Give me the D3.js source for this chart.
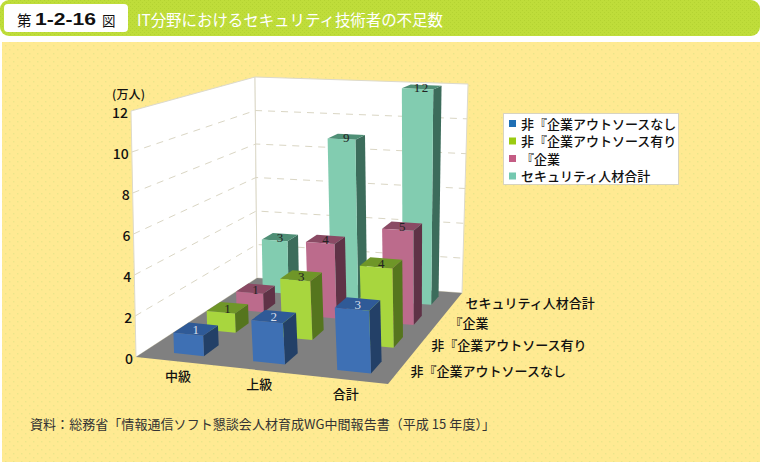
<!DOCTYPE html>
<html><head><meta charset="utf-8">
<style>html,body{margin:0;padding:0;background:#fff}svg{display:block}
text{font-family:"Noto Sans CJK JP","Noto Sans",sans-serif}</style>
<script src="https://cdn.jsdelivr.net/npm/d3@7"></script></head><body>
<svg id="c" width="760" height="462"></svg>
<script>
const categories=["中級","上級","合計"];
const seriesNames=["非『企業アウトソースなし","非『企業アウトソース有り","『企業","セキュリティ人材合計"];
const seriesA=[1,2,3];
const seriesB=[1,3,4];
const seriesC=[1,4,5];
const seriesD=[3,9,12];
const allSeries=[seriesA,seriesB,seriesC,seriesD];
const faceColors=["#3E70B4","#A8D63E","#BC6B8C","#82CCB0"];
const topColors=["#2F5A97","#6F9628","#8A4A64","#4F8F76"];
const sideColors=["#234067","#55751E","#5F3246","#3C6C5B"];
const labelColors=["#D8DEEA","#222","#222","#222"];
const legendColors=["#1F6FB5","#9BCB12","#C45C84","#74C8B0"];
const valueTicks=[0,2,4,6,8,10,12];

const svg=d3.select("#c");
const defs=svg.append("defs");
const pY=defs.append("pattern").attr("id","py").attr("width",8).attr("height",8).attr("patternUnits","userSpaceOnUse");
pY.append("rect").attr("width",8).attr("height",8).attr("fill","#FFEA92");
pY.append("rect").attr("x",1).attr("y",1).attr("width",1.4).attr("height",1.4).attr("fill","#EBE58A");
pY.append("rect").attr("x",5).attr("y",5).attr("width",1.4).attr("height",1.4).attr("fill","#EBE58A");
const pG=defs.append("pattern").attr("id","pg").attr("width",4).attr("height",4).attr("patternUnits","userSpaceOnUse");
pG.append("rect").attr("width",4).attr("height",4).attr("fill","#BFDD3A");
pG.append("rect").attr("x",0).attr("y",0).attr("width",1).attr("height",1).attr("fill","#B4D332");
pG.append("rect").attr("x",2).attr("y",2).attr("width",1).attr("height",1).attr("fill","#B4D332");

// frame
svg.append("rect").attr("x",0).attr("y",0).attr("width",760).attr("height",36).attr("rx",9).attr("fill","url(#pg)");
svg.append("rect").attr("x",4).attr("y",4).attr("width",124).attr("height",28).attr("rx",4).attr("fill","#fff");
svg.append("rect").attr("x",2).attr("y",42).attr("width",758).attr("height",420).attr("fill","url(#py)");
svg.append("text").attr("x",17).attr("y",26).attr("font-size",14.5).attr("fill","#111").text("第");
svg.append("text").attr("x",35).attr("y",25).attr("font-size",17).attr("font-weight",700).attr("fill","#111").style("font-family","Liberation Sans").attr("textLength",61).attr("lengthAdjust","spacingAndGlyphs").text("1-2-16");
svg.append("text").attr("x",102).attr("y",26).attr("font-size",13.5).attr("fill","#111").text("図");
svg.append("text").attr("x",137).attr("y",26).attr("font-size",15.5).attr("fill","#fff").attr("textLength",306).text("IT分野におけるセキュリティ技術者の不足数");
svg.append("text").attr("x",30).attr("y",429).attr("font-size",13).attr("fill","#333").attr("textLength",465).text("資料：総務省「情報通信ソフト懇談会人材育成WG中間報告書（平成 15 年度）」");

// projection: unit floor square + height
const corners={floor:[[136,357],[388,384],[462,293],[257,278]],top:[[131,111],[382,128],[468,84],[255,77]]};
function homography(q){
  const [[x0,y0],[x1,y1],[x2,y2],[x3,y3]]=q;
  const dx1=x1-x2,dx2=x3-x2,dy1=y1-y2,dy2=y3-y2,sx=x0-x1+x2-x3,sy=y0-y1+y2-y3;
  const det=dx1*dy2-dx2*dy1;
  const g=(sx*dy2-dx2*sy)/det,h=(dx1*sy-sx*dy1)/det;
  const a=x1-x0+g*x1,b=x3-x0+h*x3,d=y1-y0+g*y1,e=y3-y0+h*y3;
  return (u,v)=>{const w=g*u+h*v+1;return [(a*u+b*v+x0)/w,(d*u+e*v+y0)/w];};
}
const hF=homography(corners.floor),hT=homography(corners.top);
const xBand=d3.scaleBand().domain(d3.range(categories.length)).range([0,1]).paddingInner(0.615).paddingOuter(0.3125).align(0.58);
const yBand=d3.scaleBand().domain(d3.range(seriesNames.length)).range([0,1]).paddingInner(0.55).paddingOuter(0.28);
const zScale=d3.scaleLinear().domain([0,12]).range([0,1]);
function P(u,v,val){const f=hF(u,v),t=hT(u,v),z=zScale(val);return [f[0]+(t[0]-f[0])*z,f[1]+(t[1]-f[1])*z];}
const pathOf=pts=>"M"+pts.map(p=>p[0].toFixed(2)+","+p[1].toFixed(2)).join("L")+"Z";

const g=svg.append("g");
// walls
g.append("path").attr("d",pathOf([P(0,0,0),P(0,0,12),P(0,1,12),P(0,1,0)])).attr("fill","#fff").attr("stroke","#DDDACB");
g.append("path").attr("d",pathOf([P(0,1,0),P(0,1,12),P(1,1,12),P(1,1,0)])).attr("fill","#fff").attr("stroke","#DDDACB");
g.append("path").attr("d",pathOf([P(0,0,0),P(1,0,0),P(1,1,0),P(0,1,0)])).attr("fill","#808080");
// gridlines
valueTicks.filter(t=>t>0&&t<12).forEach(t=>{
  const l=d3.line();
  g.append("path").attr("d",l([P(0,0,t),P(0,1,t),P(1,1,t)])).attr("fill","none").attr("stroke","#DAD6C4").attr("stroke-width",1).attr("stroke-dasharray","7,6");
});
// value axis labels
valueTicks.forEach(t=>{
  const p=P(0,0,t);
  svg.append("text").attr("x",p[0]-3).attr("y",p[1]+6.5).attr("text-anchor","end").attr("font-size",14).attr("font-weight",500).attr("fill","#111").text(t);
});
svg.append("text").attr("x",112).attr("y",99).attr("font-size",12).attr("font-weight",500).attr("fill","#111").attr("textLength",33).text("(万人)");
// category labels
categories.forEach((c,i)=>{
  const p=P(xBand(i)+xBand.bandwidth()/2,0,0);
  svg.append("text").attr("x",p[0]-1).attr("y",p[1]+19).attr("text-anchor","middle").attr("font-size",13).attr("font-weight",500).attr("fill","#111").text(c);
});
// series labels
seriesNames.forEach((s,j)=>{
  const p=P(1,yBand(j)+yBand.bandwidth()/2,0);
  svg.append("text").attr("x",p[0]+11).attr("y",p[1]+6).attr("font-size",13).attr("font-weight",500).attr("fill","#111").text(s);
});
// bars back to front, left to right
for(let j=seriesNames.length-1;j>=0;j--){
  allSeries[j].forEach((val,i)=>{
    const u0=xBand(i),u1=u0+xBand.bandwidth(),v0=yBand(j),v1=v0+yBand.bandwidth();
    const b=svg.append("g");
    b.append("path").attr("d",pathOf([P(u1,v0,0),P(u1,v1,0),P(u1,v1,val),P(u1,v0,val)])).attr("fill",sideColors[j]);
    b.append("path").attr("d",pathOf([P(u0,v0,val),P(u1,v0,val),P(u1,v1,val),P(u0,v1,val)])).attr("fill",topColors[j]);
    b.append("path").attr("d",pathOf([P(u0,v0,0),P(u1,v0,0),P(u1,v0,val),P(u0,v0,val)])).attr("fill",faceColors[j]);
    const c=P((u0+u1)/2,(v0+v1)/2,val);
    b.append("text").attr("x",c[0]).attr("y",c[1]+5).attr("text-anchor","middle").attr("font-size",13).style("font-family","Liberation Serif").attr("letter-spacing",String(val).length>1?1.5:0).attr("fill",labelColors[j]).text(val);
  });
}
// legend
svg.append("rect").attr("x",503.5).attr("y",113.5).attr("width",175).attr("height",71).attr("fill","#fff").attr("stroke","#D8D4C0");
seriesNames.forEach((s,j)=>{
  const y=120+j*17.5;
  svg.append("rect").attr("x",509).attr("y",y).attr("width",7).attr("height",7).attr("fill",legendColors[j]);
  svg.append("text").attr("x",521).attr("y",y+8.5).attr("font-size",13).attr("font-weight",500).attr("fill","#111").text(s);
});
</script></body></html>
